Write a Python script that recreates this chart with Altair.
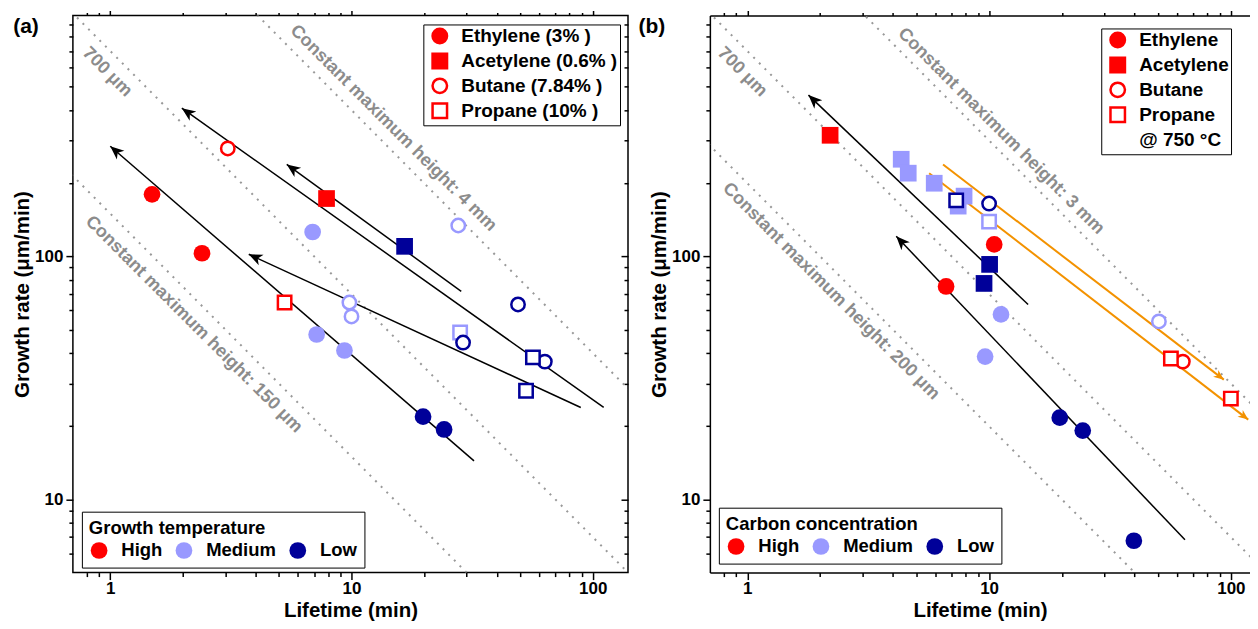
import math
import altair as alt
import pandas as pd

FONT = "Liberation Sans"
HIGH, MEDIUM, LOW = "#FF0000", "#9999FF", "#000099"
LEVELS = ["High", "Medium", "Low"]
LEVEL_COLORS = [HIGH, MEDIUM, LOW]
OPEN_GASES = ["Butane", "Propane"]
GAS_DOMAIN = ["Ethylene", "Acetylene", "Butane", "Propane"]
GAS_SHAPES = ["circle", "square", "circle", "square"]

# ---------------- panel (a): growth temperature ----------------
A_GAS = ["Ethylene", "Ethylene", "Butane", "Acetylene", "Propane",
         "Ethylene", "Ethylene", "Ethylene", "Butane", "Butane", "Butane", "Propane",
         "Acetylene", "Butane", "Butane", "Butane", "Propane", "Propane", "Ethylene", "Ethylene"]
A_LEVEL = ["High", "High", "High", "High", "High",
           "Medium", "Medium", "Medium", "Medium", "Medium", "Medium", "Medium",
           "Low", "Low", "Low", "Low", "Low", "Low", "Low", "Low"]
A_LIFETIME = [1.49, 2.40, 3.07, 7.88, 5.28,
              6.9, 7.17, 9.35, 27.7, 9.8, 10.0, 28.2,
              16.6, 49.0, 29.0, 63.3, 56.5, 52.9, 19.8, 24.2]
A_RATE = [180, 103, 278, 173, 64.6,
          126, 47.7, 41.0, 134, 64.6, 56.6, 48.6,
          110, 63.4, 44.2, 36.9, 38.4, 28.0, 21.9, 19.4]
A_LEGEND_LABELS = ["Ethylene (3% )", "Acetylene (0.6% )", "Butane (7.84% )", "Propane (10% )"]

A_ARROW_X0 = [32.2, 89.2, 111.0, 28.5]
A_ARROW_Y0 = [14.4, 23.9, 23.9, 71.8]
A_ARROW_X1 = [1.0, 3.75, 1.98, 5.39]
A_ARROW_Y1 = [284, 102, 407, 239]

A_HEIGHTS = [150, 700, 4000]
A_ANN_TEXT = ["700 μm", "Constant maximum height: 150 μm", "Constant maximum height: 4 mm"]
A_ANN_X = [0.972, 2.22, 14.9]
A_ANN_Y = [573, 52.5, 337]

# ---------------- panel (b): carbon concentration ----------------
B_GAS = ["Acetylene", "Ethylene", "Ethylene", "Butane", "Propane", "Propane",
         "Acetylene", "Acetylene", "Acetylene", "Acetylene", "Acetylene", "Propane",
         "Ethylene", "Ethylene", "Butane",
         "Propane", "Butane", "Acetylene", "Acetylene", "Ethylene", "Ethylene", "Ethylene"]
B_LEVEL = ["High"] * 6 + ["Medium"] * 9 + ["Low"] * 7
B_LIFETIME = [2.2, 6.64, 10.5, 63.3, 56.5, 100,
              4.33, 4.63, 5.93, 7.88, 7.45, 10.0,
              11.2, 9.63, 50.4,
              7.31, 10.0, 10.05, 9.53, 19.6, 24.4, 39.7]
B_RATE = [315, 75.2, 112, 36.9, 38.0, 26.0,
          251, 220, 200, 177, 161, 139,
          57.7, 38.7, 54.0,
          170, 165, 92.7, 77.4, 21.7, 19.2, 6.76]
B_LEGEND_LABELS = ["Ethylene", "Acetylene", "Butane", "Propane", "@ 750 °C"]

B_ARROW_X0 = [14.5, 64.6]
B_ARROW_Y0 = [63.4, 6.82]
B_ARROW_X1 = [1.79, 4.13]
B_ARROW_Y1 = [461, 121]

B_ORANGE_X0 = [6.45, 5.65]
B_ORANGE_Y0 = [239, 220]
B_ORANGE_X1 = [93.5, 118]
B_ORANGE_Y1 = [31.1, 21.3]

B_HEIGHTS = [200, 700, 3000]
B_ANN_TEXT = ["700 μm", "Constant maximum height: 200 μm", "Constant maximum height: 3 mm"]
B_ANN_X = [0.953, 2.22, 11.2]
B_ANN_Y = [573, 71.8, 327]

# axes
X_MAJOR = [1, 10, 100]
X_MINOR = [0.8, 0.9, 2, 3, 4, 5, 6, 7, 8, 9, 20, 30, 40, 50, 60, 70, 80, 90]
Y_MAJOR = [10, 100]
Y_MINOR = [6, 7, 8, 9, 20, 30, 40, 50, 60, 70, 80, 90, 200, 300, 400, 500, 600, 700, 800, 900]

Y_DOMAIN = [5, 980]
H = 558
ARROW_PATH = "M0,0 L-1,-0.42 L-0.72,0 L-1,0.42 Z"
GRAY = "#8c8c8c"


def head_angle(x0, y0, x1, y1, ppdx, ppdy):
    dx = (math.log10(x1) - math.log10(x0)) * ppdx
    dy = -(math.log10(y1) - math.log10(y0)) * ppdy
    return (math.degrees(math.atan2(dy, dx)) + 360) % 360


def panel(label, gas, level, xs_, ys_, legend_labels, shape_domain, shape_range,
          legend_title, heights, ann_text, ann_x, ann_y, arrows, width, xmax,
          shape_legend_xy, color_legend_xy, right_axis, label_dx):
    xsc = alt.Scale(type="log", domain=[0.7, xmax], nice=False)
    ysc = alt.Scale(type="log", domain=Y_DOMAIN, nice=False)
    ppdx = width / math.log10(xmax / 0.7)
    ppdy = H / math.log10(Y_DOMAIN[1] / Y_DOMAIN[0])
    frame_axes = not right_axis

    pts = pd.DataFrame({"gas": gas, "level": level, "x": xs_, "y": ys_})
    filled_df = pts[~pts.gas.isin(OPEN_GASES)]
    open_df = pts[pts.gas.isin(OPEN_GASES)]

    def X(axis=None):
        return alt.X("x:Q", scale=xsc, axis=axis)

    def Y(axis=None):
        return alt.Y("y:Q", scale=ysc, axis=axis)

    tick = dict(tickColor="black", tickWidth=1.5, grid=False, domainColor="black", domainWidth=1.5)
    ax_b_major = alt.Axis(orient="bottom", values=X_MAJOR, format="~g", tickSize=7,
                          labelFontSize=17, labelFontWeight="bold", labelColor="black",
                          labelPadding=1, title="Lifetime (min)", titleFontSize=20.5,
                          titleFontWeight="bold", titleColor="black", titlePadding=4,
                          domain=frame_axes, labelOverlap=False, **tick)
    ax_b_minor = alt.Axis(orient="bottom", values=X_MINOR, tickSize=4, labels=False,
                          title=None, domain=False, **tick)
    ax_t_major = alt.Axis(orient="top", values=X_MAJOR, tickSize=5, labels=False,
                          title=None, domain=frame_axes, **tick)
    ax_t_minor = alt.Axis(orient="top", values=X_MINOR, tickSize=3, labels=False,
                          title=None, domain=False, **tick)
    ax_l_major = alt.Axis(orient="left", values=Y_MAJOR, format="~g", tickSize=7,
                          labelFontSize=17, labelFontWeight="bold", labelColor="black",
                          labelPadding=3, title="Growth rate (μm/min)", titleFontSize=20.5,
                          titleFontWeight="bold", titleColor="black", titlePadding=2,
                          domain=frame_axes, labelOverlap=False, **tick)
    ax_l_minor = alt.Axis(orient="left", values=Y_MINOR, tickSize=4, labels=False,
                          title=None, domain=False, **tick)
    if right_axis:
        ax_r_major = alt.Axis(orient="right", values=Y_MAJOR, tickSize=7, offset=-7,
                              labels=False, title=None, domain=False, **tick)
        ax_r_minor = alt.Axis(orient="right", values=Y_MINOR, tickSize=4, offset=-4,
                              labels=False, title=None, domain=False, **tick)
    else:
        ax_r_major = None
        ax_r_minor = None

    one = pd.DataFrame({"x": [1.0], "y": [10.0]})
    axis_layers = [
        alt.Chart(one).mark_point(opacity=0).encode(x=X(ax_b_major), y=Y(ax_l_major)),
        alt.Chart(one).mark_point(opacity=0).encode(x=X(ax_b_minor), y=Y(ax_l_minor)),
        alt.Chart(one).mark_point(opacity=0).encode(x=X(ax_t_major), y=Y(ax_r_major)),
        alt.Chart(one).mark_point(opacity=0).encode(x=X(ax_t_minor), y=Y(ax_r_minor)),
    ]

    # dotted iso-height lines: rate = height / lifetime
    rows = []
    for h in heights:
        for xv in (0.5, 200.0):
            rows.append({"h": str(h), "x": xv, "y": h / xv})
    iso = alt.Chart(pd.DataFrame(rows)).mark_line(
        clip=True, color="#999999", strokeWidth=2, strokeDash=[2, 6]
    ).encode(x=X(), y=Y(), detail="h:N")

    ann = alt.Chart(pd.DataFrame({"t": ann_text, "x": ann_x, "y": ann_y})).mark_text(
        angle=45, fontSize=18, fontWeight="bold", color=GRAY, font=FONT,
        align="center", baseline="middle"
    ).encode(x=X(), y=Y(), text="t:N")

    arrow_layers = []
    for (x0s, y0s, x1s, y1s, color, lw, hsize) in arrows:
        lrows, hrows = [], []
        for i, (a, b, c, d) in enumerate(zip(x0s, y0s, x1s, y1s)):
            lrows.append({"id": i, "x": a, "y": b, "o": 0})
            lrows.append({"id": i, "x": c, "y": d, "o": 1})
            hrows.append({"x": c, "y": d, "ang": head_angle(a, b, c, d, ppdx, ppdy)})
        arrow_layers.append(
            alt.Chart(pd.DataFrame(lrows)).mark_line(clip=True, color=color, strokeWidth=lw)
            .encode(x=X(), y=Y(), detail="id:N", order="o:Q"))
        arrow_layers.append(
            alt.Chart(pd.DataFrame(hrows)).mark_point(
                shape=ARROW_PATH, filled=True, color=color, size=hsize, opacity=1,
                strokeWidth=0, clip=True)
            .encode(x=X(), y=Y(), angle=alt.Angle("ang:Q", scale=None)))

    shape_scale = alt.Scale(domain=shape_domain, range=shape_range)
    color_scale = alt.Scale(domain=LEVELS, range=LEVEL_COLORS)

    expr = "datum.label"
    for k, lab in zip(shape_domain[::-1], legend_labels[::-1]):
        expr = f"datum.label == '{k}' ? '{lab}' : ({expr})"

    shape_legend = alt.Legend(
        orient="none", legendX=shape_legend_xy[0], legendY=shape_legend_xy[1],
        title=None, direction="vertical", labelExpr=expr,
        labelFont=FONT, labelFontSize=19, labelFontWeight="bold", labelColor="black",
        labelLimit=400, labelOffset=12, symbolSize=210, symbolStrokeWidth=2.5,
        symbolOffset=5, rowPadding=0, padding=2, strokeColor="black", fillColor="white",
        symbolStrokeColor={"expr": "datum.value == '@ 750 °C' ? 'transparent' : '#FF0000'"},
        symbolFillColor={"expr": "indexof(['Butane', 'Propane', '@ 750 °C'], datum.value) >= 0 ? 'transparent' : '#FF0000'"},
    )
    color_legend = alt.Legend(
        orient="none", legendX=color_legend_xy[0], legendY=color_legend_xy[1],
        title=legend_title, titleFont=FONT, titleFontSize=18.5, titleFontWeight="bold",
        titleColor="black", titlePadding=4, titleLimit=500, direction="horizontal",
        labelFont=FONT, labelFontSize=18.5, labelFontWeight="bold", labelColor="black",
        labelOffset=13, symbolType="circle", symbolSize=280, symbolStrokeWidth=0,
        symbolOffset=1, columnPadding=11, padding=7, strokeColor="black", fillColor="white",
    )

    filled = alt.Chart(filled_df).mark_point(filled=True, size=280, opacity=1, strokeWidth=0).encode(
        x=X(), y=Y(),
        shape=alt.Shape("gas:N", scale=shape_scale, legend=shape_legend),
        fill=alt.Fill("level:N", scale=color_scale, legend=color_legend),
    )
    opened = alt.Chart(open_df).mark_point(filled=False, fill="white", size=180, opacity=1,
                                           strokeWidth=2.5).encode(
        x=X(), y=Y(),
        shape=alt.Shape("gas:N", scale=shape_scale, legend=None),
        stroke=alt.Stroke("level:N", scale=color_scale, legend=None),
    )

    tag = alt.Chart(pd.DataFrame({"t": [label]})).mark_text(
        fontSize=21, fontWeight="bold", color="black", font=FONT, align="center", baseline="middle"
    ).encode(x=alt.value(label_dx), y=alt.value(12), text="t:N")

    layers = axis_layers + [iso, ann] + arrow_layers + [filled, opened, tag]
    view = (alt.ViewBackground(stroke="black", strokeWidth=1.5) if right_axis
            else alt.ViewBackground(strokeWidth=0))
    return alt.layer(*layers).properties(width=width, height=H, view=view).resolve_axis(
        x="independent", y="independent")


pa = panel("(a)", A_GAS, A_LEVEL, A_LIFETIME, A_RATE, A_LEGEND_LABELS,
           GAS_DOMAIN, GAS_SHAPES, "Growth temperature", A_HEIGHTS,
           A_ANN_TEXT, A_ANN_X, A_ANN_Y,
           [(A_ARROW_X0, A_ARROW_Y0, A_ARROW_X1, A_ARROW_Y1, "black", 1.5, 750)],
           556, 140, (351, 9), (9, 497), True, -47)

pb = panel("(b)", B_GAS, B_LEVEL, B_LIFETIME, B_RATE, B_LEGEND_LABELS,
           GAS_DOMAIN + ["@ 750 °C"], GAS_SHAPES + ["circle"], "Carbon concentration", B_HEIGHTS,
           B_ANN_TEXT, B_ANN_X, B_ANN_Y,
           [(B_ARROW_X0, B_ARROW_Y0, B_ARROW_X1, B_ARROW_Y1, "black", 1.5, 750),
            (B_ORANGE_X0, B_ORANGE_Y0, B_ORANGE_X1, B_ORANGE_Y1, "#F39200", 2, 420)],
           541, 120, (392, 13), (9, 493), False, -58)

chart = alt.hconcat(pa, pb, spacing=8).resolve_scale(
    x="independent", y="independent", fill="independent", stroke="independent",
    shape="independent"
).properties(
    padding={"left": 3, "top": 0, "right": 0, "bottom": 0}
).configure(font=FONT).configure_view(stroke=None)

chart.save("out.html", embed_options={"renderer": "svg", "actions": False})
